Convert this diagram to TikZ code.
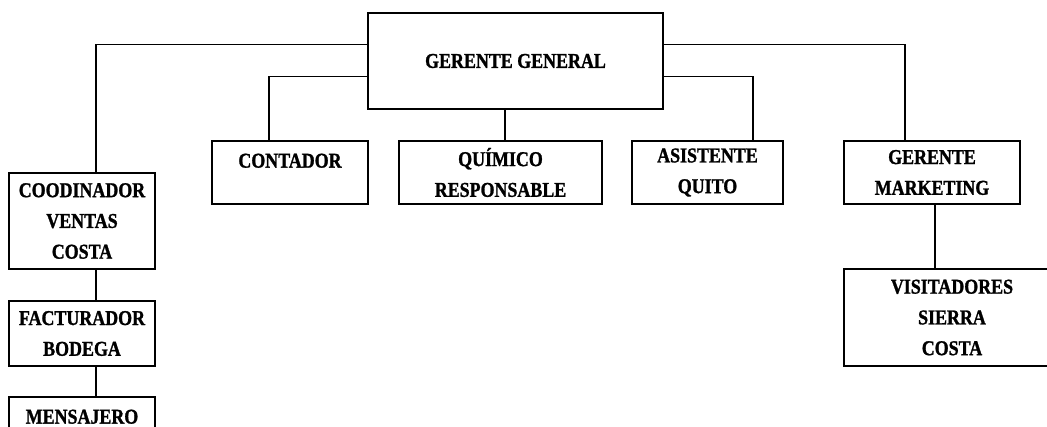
\documentclass[tikz,border=0pt]{standalone}
\usepackage{fontspec}
\setmainfont{Liberation Serif}[FakeStretch=0.85,BoldFeatures={FakeBold=1.2}]
\usepackage{tikz}
\usetikzlibrary{positioning,calc}
\tikzset{
    cargo/.style={
        rectangle,
        draw,
        line width=0.7pt,
        fill=white,
        align=center,
        inner sep=0pt,
        font=\fontsize{12}{17.5}\selectfont\bfseries
    },
    linea/.style={
        line width=0.6pt
    }
}

\begin{document}
\begin{tikzpicture}[x=0.02cm, y=-0.02cm]
                \useasboundingbox (0,0) rectangle (1047,426);
                \clip (0,0) rectangle (1047,426);

                \node[cargo, minimum width=5.9cm, minimum height=1.92cm] (gg) at (515.5,61) {GERENTE GENERAL};
                \node[cargo, minimum width=3.12cm, minimum height=1.26cm] (cont) at (290,172.5) {CONTADOR\\[-4pt]\mbox{}};
                \node[cargo, minimum width=4.06cm, minimum height=1.26cm] (quim) at (500.5,172.5) {QUÍMICO\\RESPONSABLE};
                \node[cargo, minimum width=3.02cm, minimum height=1.26cm] (asis) at (707.5,172.5) {ASISTENTE\\QUITO};
                \node[cargo, minimum width=3.52cm, minimum height=1.26cm] (gmkt) at (932,172.5) {GERENTE\\MARKETING};
                \node[cargo, minimum width=4.32cm, minimum height=1.94cm] (visit) at (952,317.5) {VISITADORES\\SIERRA\\COSTA};

                % rama de ventas
                \node[cargo, minimum width=2.92cm, minimum height=1.92cm] (coord) at (82,221) {COODINADOR\\VENTAS\\COSTA};
                \node[cargo, minimum width=2.92cm, minimum height=1.3cm] (fact) at (82,333.5) {FACTURADOR\\BODEGA};
                \node[cargo, minimum width=2.92cm, minimum height=1.26cm] (mens) at (82,428.5) {MENSAJERO\\[-4pt]\mbox{}};

                \coordinate (pCoord) at ($(coord.north)+(14,0)$);
                \coordinate (pCont) at ($(cont.north)+(-21,0)$);
                \coordinate (pQuim) at ($(gg.south)+(-10.5,0)$);
                \coordinate (pAsis) at ($(asis.north)+(45.5,0)$);
                \coordinate (pGmkt) at ($(gmkt.north)+(-27,0)$);
                \coordinate (pVisit) at ($(gmkt.south)+(3,0)$);

                \draw[linea] ($(gg.north west)+(0,32)$) -| (pCoord);
                \draw[linea] ($(gg.north west)+(0,64)$) -| (pCont);
                \draw[linea] (pQuim) -- (pQuim |- quim.north);
                \draw[linea] ($(gg.north east)+(0,64)$) -| (pAsis);
                \draw[linea] ($(gg.north east)+(0,32)$) -| (pGmkt);
                \draw[linea] (pVisit) -- (pVisit |- visit.north);
                \draw[linea] (pCoord |- coord.south) -- (pCoord |- fact.north);
                \draw[linea] (pCoord |- fact.south) -- (pCoord |- mens.north);
            \end{tikzpicture}
\end{document}
